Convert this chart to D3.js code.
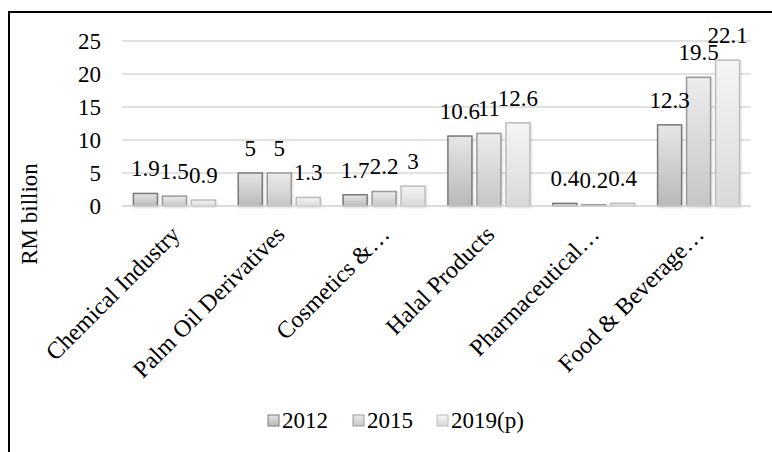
<!DOCTYPE html>
<html><head><meta charset="utf-8">
<script src="https://cdn.jsdelivr.net/npm/d3@7"></script>
<style>
html,body{margin:0;padding:0;background:#fff;}
svg text{font-family:"Liberation Serif","Times New Roman","DejaVu Serif",serif !important;fill:#000;}
</style></head>
<body>
<svg id="chart" width="772" height="452" font-family="Liberation Serif"></svg>
<script>
const categories = ["Chemical Industry","Palm Oil Derivatives","Cosmetics &…","Halal Products","Pharmaceutical…","Food & Beverage…"];
const seriesNames = ["2012","2015","2019(p)"];
const values2012 = [1.9, 5, 1.7, 10.6, 0.4, 12.3];
const values2015 = [1.5, 5, 2.2, 11, 0.2, 19.5];
const values2019 = [0.9, 1.3, 3, 12.6, 0.4, 22.1];
const yTicks = [0, 5, 10, 15, 20, 25];

const FONT = "'Liberation Serif', 'Times New Roman', serif";
const seriesValues = [values2012, values2015, values2019];
const styles = [
  {top:"#e6e6e6", bottom:"#b9b9b9", stroke:"#7a7a7a"},
  {top:"#ececec", bottom:"#c6c6c6", stroke:"#9a9a9a"},
  {top:"#f5f5f5", bottom:"#d9d9d9", stroke:"#bcbcbc"}
];

const svg = d3.select("#chart");
const defs = svg.append("defs");
styles.forEach((s,i)=>{
  const g = defs.append("linearGradient").attr("id","grad"+i).attr("x1",0).attr("y1",0).attr("x2",0).attr("y2",1);
  g.append("stop").attr("offset","0%").attr("stop-color",s.top);
  g.append("stop").attr("offset","100%").attr("stop-color",s.bottom);
});
const f = defs.append("filter").attr("id","shadow").attr("x","-20%").attr("y","-20%").attr("width","150%").attr("height","150%");
f.append("feDropShadow").attr("dx",1).attr("dy",1).attr("stdDeviation",1).attr("flood-color","#000").attr("flood-opacity",0.15);

// frame
svg.append("path").attr("d","M9,452 L9,12 L772,12").attr("fill","none").attr("stroke","#000").attr("stroke-width",2);

const x = d3.scaleBand().domain(categories).range([122, 751]);
const x1 = d3.scaleBand().domain(seriesNames).range([-41, 41]).paddingInner(0.172);
const y = d3.scaleLinear().domain([0, 25]).range([206, 41]);

// grid
svg.append("g").selectAll("line").data(yTicks).join("line")
  .attr("x1",122).attr("x2",751)
  .attr("y1",d=>y(d)).attr("y2",d=>y(d))
  .attr("stroke","#d9d9d9").attr("stroke-width",1.5);

// y axis labels
const yAxis = d3.axisLeft(y).tickValues(yTicks).tickSize(0).tickPadding(0);
const ya = svg.append("g").attr("transform","translate(101,0)").call(yAxis)
  .attr("font-family", FONT).attr("font-size", 23);
ya.select(".domain").remove();
ya.selectAll("text").style("font-family",FONT).attr("fill","#000").attr("dy","0.33em");

// y title
svg.append("text").attr("transform","translate(37,214) rotate(-90)")
  .attr("text-anchor","middle").attr("font-size",23).style("font-family",FONT).text("RM billion");

// bars
const groups = svg.append("g").selectAll("g").data(categories).join("g")
  .attr("transform",d=>`translate(${x(d)+x.bandwidth()/2},0)`);
groups.each(function(cat, ci){
  const g = d3.select(this);
  seriesNames.forEach((s, si)=>{
    const v = seriesValues[si][ci];
    g.append("rect")
      .attr("x", x1(s)).attr("width", x1.bandwidth())
      .attr("y", y(v)).attr("height", Math.max(0, y(0)-y(v)))
      .attr("fill", `url(#grad${si})`).attr("stroke", styles[si].stroke).attr("stroke-width",1.5)
      .attr("filter","url(#shadow)");
  });
  seriesNames.forEach((s, si)=>{
    const v = seriesValues[si][ci];
    g.append("text")
      .attr("x", x1(s)+x1.bandwidth()/2).attr("y", y(v)-17)
      .attr("text-anchor","middle").attr("font-size",23).style("font-family",FONT).text(v);
  });
});

// baseline
svg.append("line").attr("x1",122).attr("x2",751).attr("y1",y(0)).attr("y2",y(0)).attr("stroke","#d9d9d9").attr("stroke-width",1.5);

// x labels
const xAxis = d3.axisBottom(x).tickSize(0).tickPadding(0);
const xa = svg.append("g").attr("transform","translate(0,219)").call(xAxis)
  .attr("font-family", FONT).attr("font-size", 24);
xa.select(".domain").remove();
xa.selectAll("text").style("font-family",FONT).attr("fill","#000")
  .attr("text-anchor","end").attr("dy","0.7em")
  .attr("transform","translate(-5,5) rotate(-45)");

// legend
const legendX = [268, 353, 437];
const lg = svg.append("g").selectAll("g").data(seriesNames).join("g")
  .attr("transform",(d,i)=>`translate(${legendX[i]},420)`);
lg.append("rect").attr("x",0).attr("y",-5).attr("width",11).attr("height",11)
  .attr("fill",(d,i)=>`url(#grad${i})`).attr("stroke",(d,i)=>styles[i].stroke).attr("stroke-width",1);
lg.append("text").attr("x",14).attr("y",0).attr("dy","0.35em").attr("font-size",23).style("font-family",FONT).text(d=>d);
</script>
</body></html>
